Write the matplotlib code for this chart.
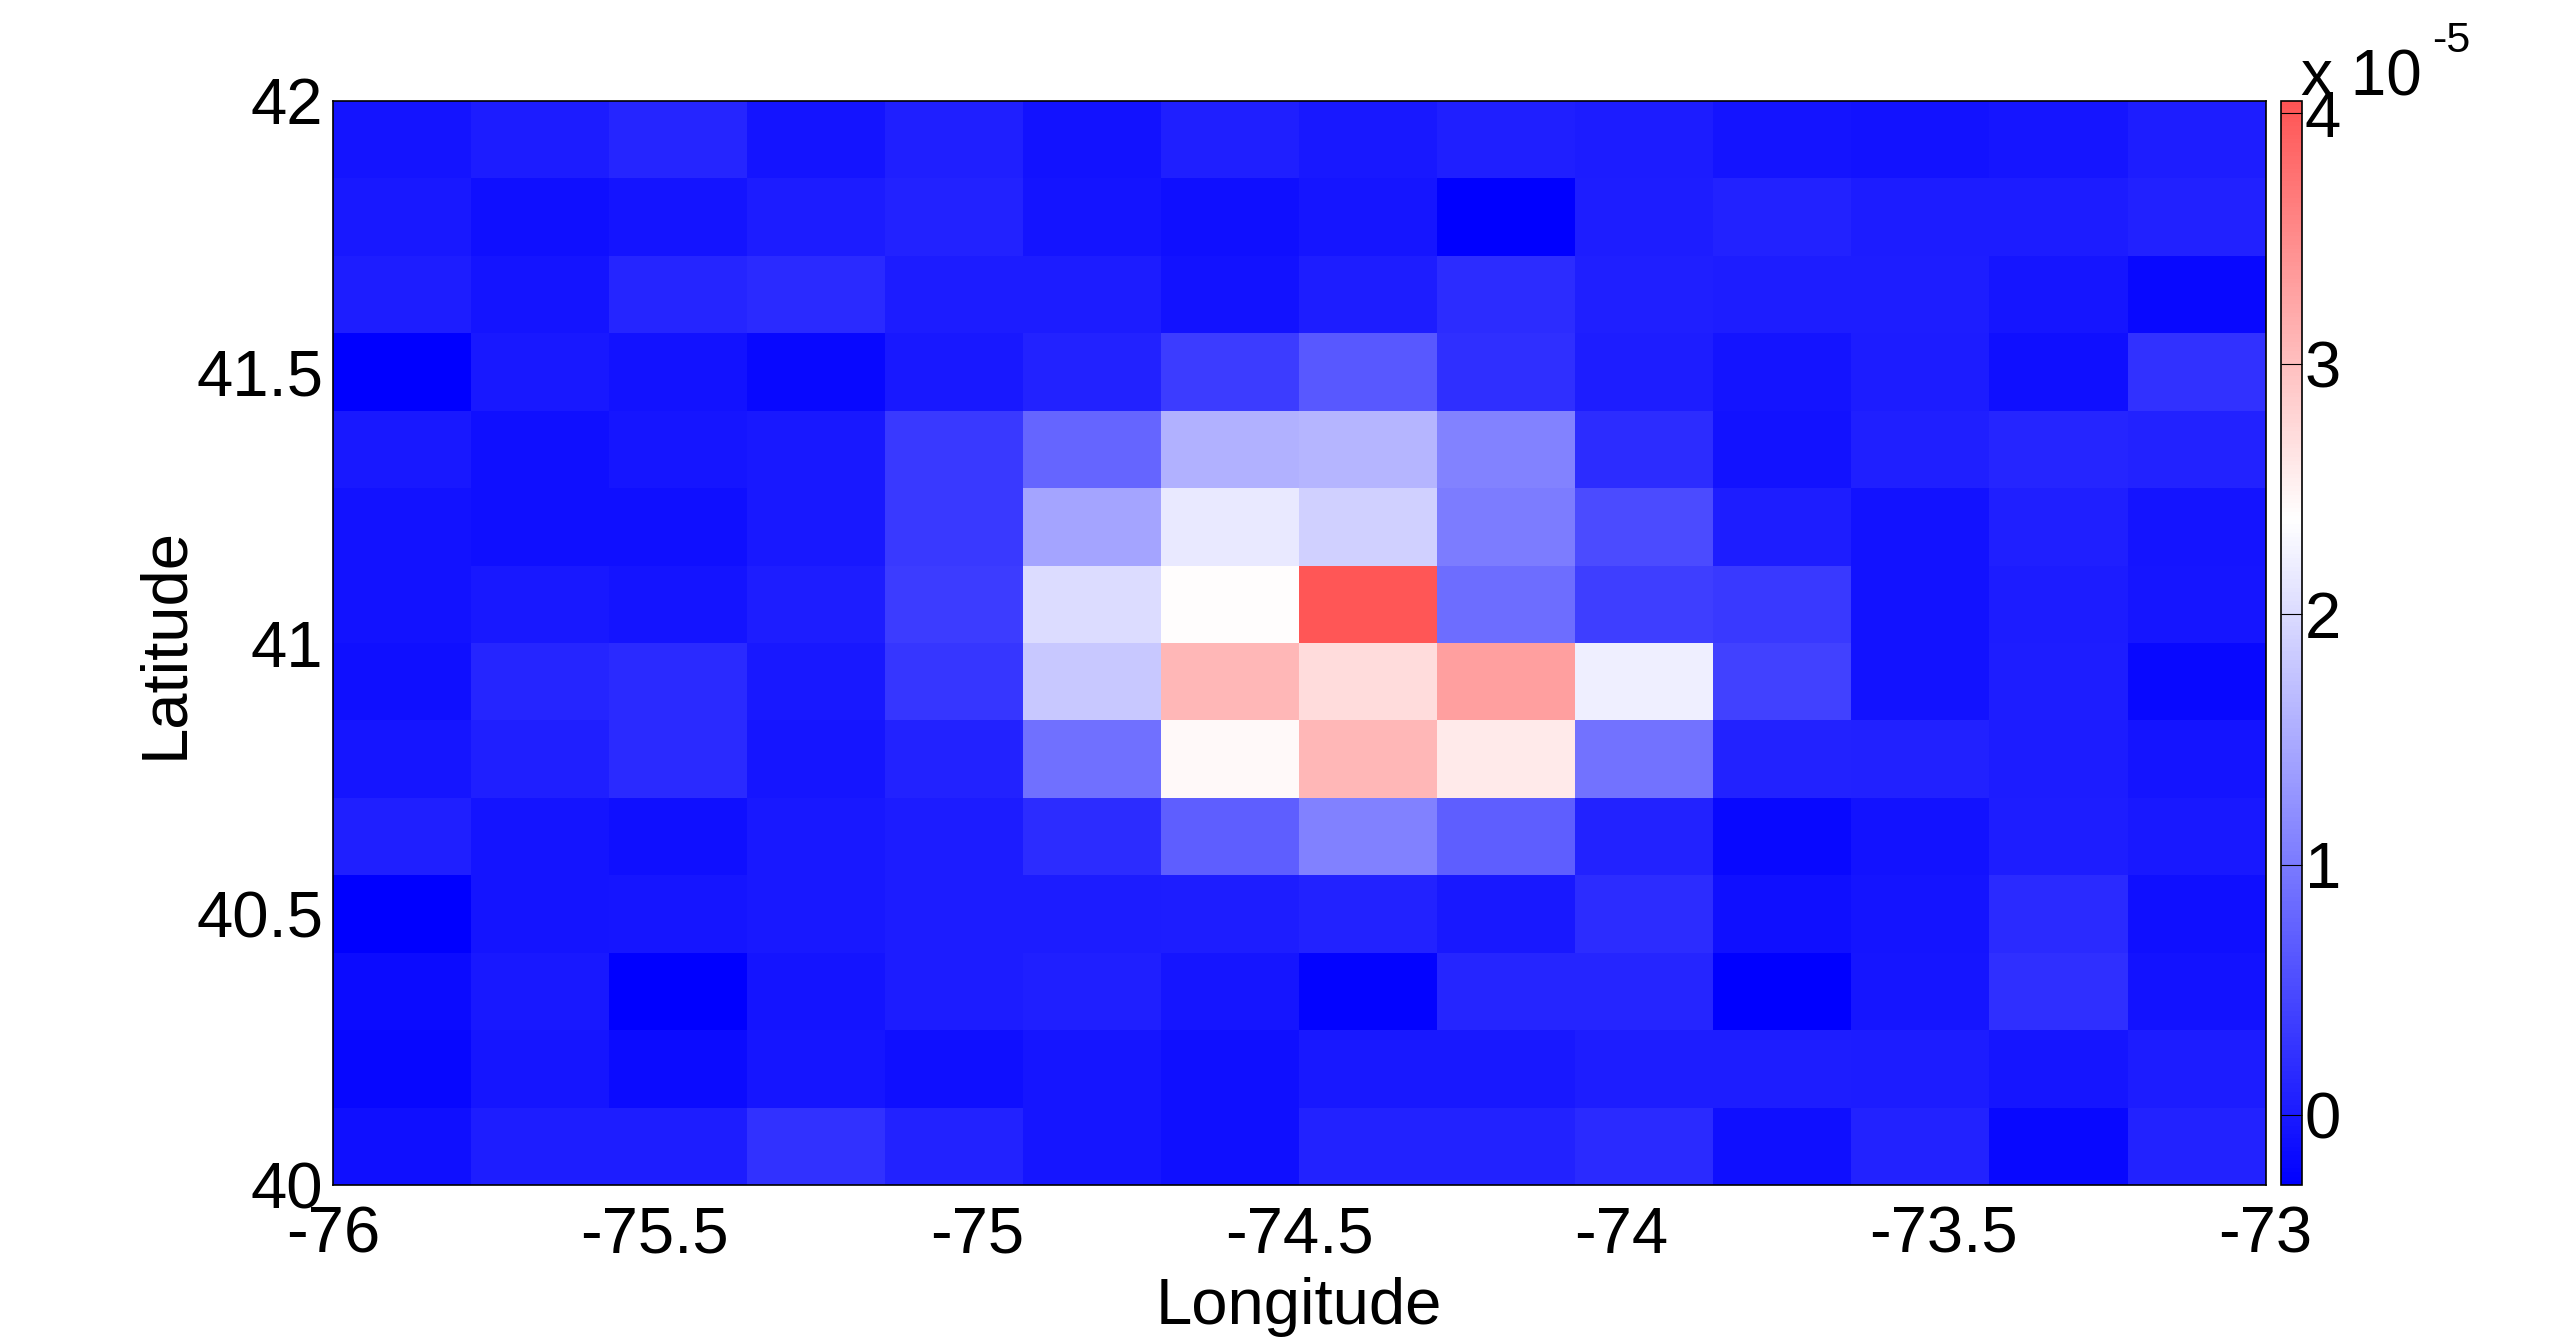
import numpy as np
import matplotlib
matplotlib.use("Agg")
import matplotlib.pyplot as plt
from matplotlib.colors import LinearSegmentedColormap, Normalize

plt.rcParams['font.family'] = ['Liberation Sans', 'DejaVu Sans']

# Grid definition (degrees)
lon_min, lon_max = -76.0, -73.0
lat_min, lat_max = 40.0, 42.0
n_lon, n_lat = 14, 14

# Values in units of 1e-5, rows from north (top, lat 42) to south (bottom, lat 40)
row00 = [-0.07, 0.01, 0.12, -0.07, 0.05, -0.09, 0.05, -0.02, 0.05, 0.01, -0.07, -0.09, -0.05, 0.03]
row01 = [-0.02, -0.12, -0.07, 0.01, 0.09, -0.07, -0.12, -0.05, -0.28, 0.03, 0.09, 0.01, 0.01, 0.06]
row02 = [0.03, -0.07, 0.12, 0.16, 0.01, 0.01, -0.09, 0.03, 0.19, 0.05, 0.03, 0.03, -0.05, -0.18]
row03 = [-0.28, -0.02, -0.09, -0.18, -0.02, 0.09, 0.35, 0.64, 0.22, 0.03, -0.07, 0.01, -0.12, 0.24]
row04 = [-0.02, -0.12, -0.05, -0.02, 0.32, 0.78, 1.58, 1.60, 1.08, 0.19, -0.09, 0.05, 0.12, 0.09]
row05 = [-0.09, -0.12, -0.12, -0.02, 0.32, 1.44, 2.14, 1.89, 1.02, 0.50, 0.03, -0.09, 0.05, -0.07]
row06 = [-0.09, -0.02, -0.07, 0.03, 0.35, 2.01, 2.40, 4.02, 0.87, 0.37, 0.32, -0.09, 0.01, -0.05]
row07 = [-0.12, 0.12, 0.16, -0.02, 0.29, 1.81, 3.07, 2.72, 3.31, 2.22, 0.40, -0.09, 0.03, -0.18]
row08 = [-0.05, 0.05, 0.16, -0.05, 0.09, 0.89, 2.43, 3.07, 2.58, 0.92, 0.09, 0.06, 0.01, -0.07]
row09 = [0.05, -0.07, -0.12, -0.02, 0.01, 0.19, 0.71, 1.06, 0.71, 0.09, -0.18, -0.09, 0.03, -0.02]
row10 = [-0.28, -0.07, -0.05, -0.02, 0.01, 0.01, 0.03, 0.09, -0.02, 0.19, -0.12, -0.07, 0.16, -0.12]
row11 = [-0.16, -0.02, -0.28, -0.07, 0.01, 0.05, -0.05, -0.23, 0.12, 0.12, -0.28, -0.05, 0.22, -0.09]
row12 = [-0.20, -0.05, -0.16, -0.05, -0.12, -0.05, -0.12, -0.02, -0.02, 0.03, 0.03, 0.01, -0.05, 0.01]
row13 = [-0.12, 0.03, 0.03, 0.24, 0.09, -0.05, -0.12, 0.09, 0.09, 0.16, -0.12, 0.09, -0.18, 0.09]

rows = [row00, row01, row02, row03, row04, row05, row06,
        row07, row08, row09, row10, row11, row12, row13]

x_ticks = [-76, -75.5, -75, -74.5, -74, -73.5, -73]
x_tick_labels = ['-76', '-75.5', '-75', '-74.5', '-74', '-73.5', '-73']
y_ticks = [40, 40.5, 41, 41.5, 42]
y_tick_labels = ['40', '40.5', '41', '41.5', '42']
cbar_ticks = [0, 1, 2, 3, 4]
cbar_tick_labels = ['0', '1', '2', '3', '4']

vmin, vmax, vwhite = -0.28, 4.05, 2.38

data = np.array(rows)
lon_edges = np.linspace(lon_min, lon_max, n_lon + 1)
lat_edges = np.linspace(lat_max, lat_min, n_lat + 1)

w = (vwhite - vmin) / (vmax - vmin)
cmap = LinearSegmentedColormap.from_list(
    'bwr_custom', [(0.0, (0, 0, 1)), (w, (1, 1, 1)), (1.0, (1, 0.33, 0.33))], N=256)
norm = Normalize(vmin=vmin, vmax=vmax)

FS = 47

fig = plt.figure(figsize=(25.6, 13.41), dpi=100)
ax = fig.add_axes([0.130, 0.1163, 0.755, 0.8084])
mesh = ax.pcolormesh(lon_edges, lat_edges, data, cmap=cmap, norm=norm, shading='flat')
ax.set_xlim(lon_min, lon_max)
ax.set_ylim(lat_min, lat_max)
ax.set_xticks(x_ticks)
ax.set_xticklabels(x_tick_labels)
ax.set_yticks(y_ticks)
ax.set_yticklabels(y_tick_labels)
ax.tick_params(axis='both', length=0, labelsize=FS, colors='black')
ax.tick_params(axis='x', pad=15)
ax.tick_params(axis='y', pad=7)
for s in ax.spines.values():
    s.set_linewidth(1.2)
    s.set_color('black')
ax.set_xlabel('Longitude', fontsize=FS, labelpad=8)
ax.set_ylabel('Latitude', fontsize=FS, labelpad=1)

cax = fig.add_axes([0.891, 0.1163, 0.0082, 0.8084])
cb = fig.colorbar(mesh, cax=cax)
cb.set_ticks(cbar_ticks)
cb.set_ticklabels(cbar_tick_labels)
cax.tick_params(axis='y', direction='in', length=15, width=0.8, labelsize=FS, pad=2, colors='black')
cb.outline.set_linewidth(1.2)
cb.outline.set_edgecolor('black')

fig.text(0.899, 0.929, 'x 10', fontsize=46, ha='left', va='baseline')
fig.text(0.950, 0.961, '-5', fontsize=31, ha='left', va='baseline')

fig.savefig('out.png', dpi=100, facecolor='white')
